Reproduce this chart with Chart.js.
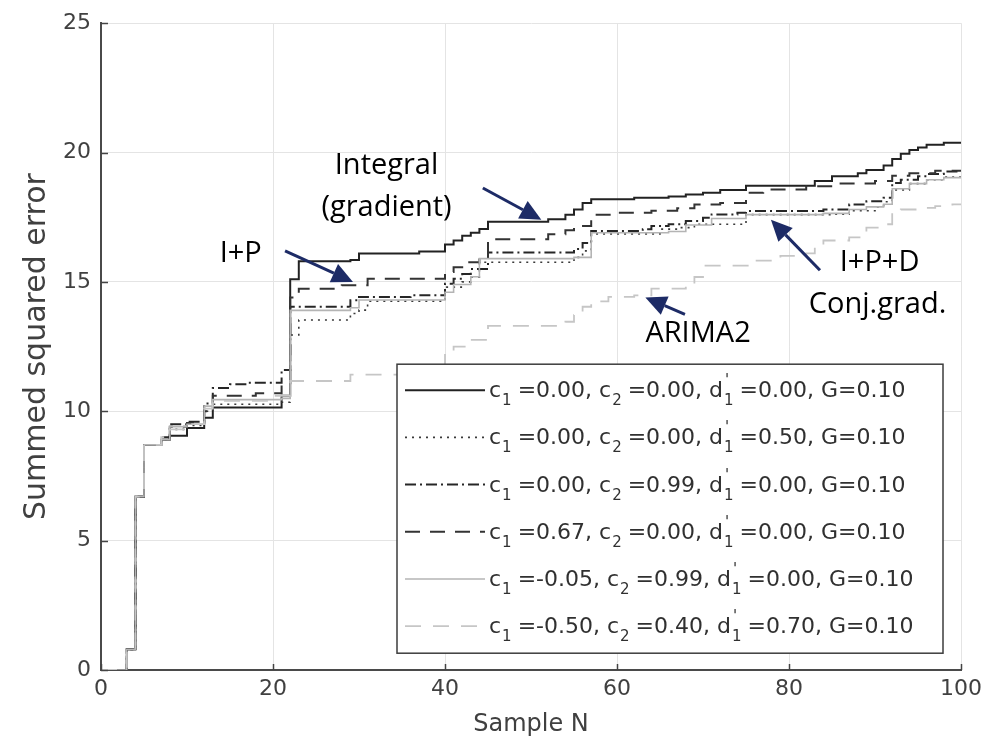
<!DOCTYPE html>
<html>
<head>
<meta charset="utf-8">
<title>Summed squared error</title>
<script src="https://cdn.jsdelivr.net/npm/chart.js@4.4.1/dist/chart.umd.min.js"></script>
<style>
  html, body { margin: 0; padding: 0; background: #fff; }
  #wrap { position: relative; width: 994px; height: 749px; }
</style>
</head>
<body>
<div id="wrap"><canvas id="sse" width="994" height="749"></canvas></div>
<script>
// tick labels
const xTicks = [0, 20, 40, 60, 80, 100]
const yTicks = [0, 5, 10, 15, 20, 25]

// legend parameters (one entry per curve)
const c1Vals = ['0.00', '0.00', '0.00', '0.67', '-0.05', '-0.50']
const c2Vals = ['0.00', '0.00', '0.99', '0.00', '0.99', '0.40']
const d1Vals = ['0.00', '0.50', '0.00', '0.00', '0.00', '0.70']
const gVals  = ['0.10', '0.10', '0.10', '0.10', '0.10', '0.10']

// step curves: [sample N, summed squared error] at each change
const curveSolid = [[0,0],[3,0.8],[4,6.7],[5,8.7],[7,8.9],[8,9.05],[10,9.35],[12,9.75],[13,10.15],[21,10.6],[22,15.1],[23,15.8],[29,15.85],[30,16.1],[37,16.18],[40,16.45],[41,16.6],[42,16.78],[43,16.9],[44,17.05],[45,17.33],[52,17.42],[54,17.6],[55,17.8],[56,18.05],[57,18.2],[62,18.25],[66,18.3],[68,18.38],[70,18.45],[72,18.55],[75,18.72],[83,18.9],[85,19.08],[88,19.2],[89,19.33],[91,19.5],[92,19.75],[93,19.95],[94,20.1],[95,20.2],[96,20.3],[98,20.38],[100,20.38]]
const curveDotted = [[0,0],[3,0.8],[4,6.7],[5,8.7],[7,8.9],[8,9.3],[10,9.45],[12,10.0],[13,10.27],[21,10.35],[22,12.95],[23,13.53],[29,13.78],[30,13.91],[31,14.25],[40,14.8],[42,15.0],[43,15.19],[44,15.76],[55,15.95],[56,16.2],[57,16.85],[65,17.04],[67,17.1],[69,17.23],[75,17.6],[85,17.62],[87,17.75],[90,17.9],[91,18.1],[92,18.55],[94,18.8],[96,18.95],[98,19.05],[100,19.1]]
const curveDashDot = [[0,0],[3,0.8],[4,6.7],[5,8.7],[7,9.0],[8,9.5],[10,9.6],[12,10.3],[13,10.9],[15,11.04],[17,11.1],[21,11.6],[22,14.04],[29,14.29],[30,14.42],[36,14.48],[40,14.93],[41,15.12],[42,15.31],[43,15.5],[45,16.14],[55,16.27],[56,16.5],[57,16.97],[63,17.04],[64,17.16],[66,17.23],[68,17.35],[70,17.48],[71,17.61],[74,17.67],[75,17.74],[84,17.8],[87,17.99],[89,18.12],[91,18.25],[92,18.82],[93,18.95],[95,19.08],[96,19.17],[98,19.27],[100,19.3]]
const curveDashed = [[0,0],[3,0.8],[4,6.7],[5,8.7],[7,9.0],[8,9.4],[10,9.55],[12,10.0],[13,10.6],[18,10.7],[21,11.0],[22,14.4],[23,14.74],[28,14.87],[31,15.12],[40,15.38],[41,15.57],[42,15.76],[44,16.0],[45,16.65],[52,16.84],[54,17.0],[55,17.16],[57,17.6],[60,17.67],[64,17.75],[67,17.85],[69,17.99],[72,18.05],[75,18.45],[77,18.57],[82,18.7],[86,18.8],[90,18.9],[92,19.1],[94,19.2],[97,19.3],[100,19.3]]
const curveLight = [[0,0],[3,0.8],[4,6.7],[5,8.7],[7,8.9],[8,9.4],[10,9.5],[12,10.2],[13,10.45],[21,10.5],[22,13.9],[29,14.0],[30,14.3],[40,14.6],[41,14.9],[43,15.2],[44,15.9],[55,15.95],[57,16.9],[66,16.95],[68,17.2],[71,17.45],[75,17.6],[84,17.65],[87,17.8],[89,17.9],[91,18.0],[92,18.6],[94,18.8],[96,18.95],[98,19.03],[100,19.07]]
const curveArima = [[0,0],[3,0.8],[4,6.7],[5,8.7],[7,9.0],[8,9.3],[10,9.5],[12,10.1],[13,10.4],[20,10.6],[22,11.17],[29,11.42],[35,11.6],[40,12.25],[41,12.5],[43,12.76],[45,13.3],[54,13.46],[55,13.72],[56,14.04],[57,14.25],[59,14.42],[62,14.48],[64,14.74],[68,14.93],[69,15.19],[70,15.63],[76,15.82],[79,16.01],[82,16.1],[83,16.35],[84,16.6],[87,16.72],[89,17.1],[91,17.23],[92,17.67],[93,17.8],[95,17.86],[97,17.93],[99,18.0],[100,18.0]]

const curves = [curveSolid, curveDotted, curveDashDot, curveDashed, curveLight, curveArima]
const lineStyles = [
    {color: '#222222', width: 2,   dash: []},
    {color: '#3a3a3a', width: 1.6, dash: [2, 5]},
    {color: '#262626', width: 2,   dash: [11, 4, 2, 4]},
    {color: '#333333', width: 2,   dash: [15, 10]},
    {color: '#b4b4b4', width: 1.6, dash: []},
    {color: '#c6c6c6', width: 1.8, dash: [16, 12]}
]

const textColor = '#404040'
const arrowColor = '#1d2b66'

// annotation text, anchored in data units
const annotations = [
    {lines: ['Integral', '(gradient)'], x: 33.2, y: 19.5, align: 'center'},
    {lines: ['I+P'], x: 13.8, y: 16.1, align: 'left'},
    {lines: ['ARIMA2'], x: 63.3, y: 13.0, align: 'left'},
    {lines: ['I+P+D'], x: 85.9, y: 15.75, align: 'left'},
    {lines: ['Conj.grad.'], x: 82.3, y: 14.1, align: 'left'}
]
// arrows: [fromX, fromY, toX, toY] in data units
const arrows = [
    [44.4, 18.63, 51.2, 17.4],
    [21.4, 16.2, 29.3, 15.0],
    [67.9, 13.75, 63.3, 14.4],
    [83.6, 15.45, 77.9, 17.4]
]

function legendLabel(i){
    return 'c1=' + c1Vals[i] + ', c2=' + c2Vals[i] + ", d'1=" + d1Vals[i] + ', G=' + gVals[i]
}

function drawArrow(ctx, x1, y1, x2, y2){
    let ang = Math.atan2(y2 - y1, x2 - x1)
    let head = 21, half = 10
    let bx = x2 - head * Math.cos(ang), by = y2 - head * Math.sin(ang)
    ctx.strokeStyle = arrowColor
    ctx.fillStyle = arrowColor
    ctx.lineWidth = 3
    ctx.setLineDash([])
    ctx.beginPath()
    ctx.moveTo(x1, y1)
    ctx.lineTo(bx, by)
    ctx.stroke()
    ctx.beginPath()
    ctx.moveTo(x2, y2)
    ctx.lineTo(bx + half * Math.sin(ang), by - half * Math.cos(ang))
    ctx.lineTo(bx - half * Math.sin(ang), by + half * Math.cos(ang))
    ctx.closePath()
    ctx.fill()
}

function drawLegend(chart){
    const ctx = chart.ctx
    const area = chart.chartArea
    const bx = area.left + 296, by = area.top + 341, bw = 546, bh = 289
    const mainFont = '22px "DejaVu Sans"'
    const subFont = '15px "DejaVu Sans"'
    ctx.save()
    ctx.fillStyle = '#fff'
    ctx.fillRect(bx, by, bw, bh)
    ctx.strokeStyle = '#3c3c3c'
    ctx.lineWidth = 1.5
    ctx.setLineDash([])
    ctx.strokeRect(bx, by, bw, bh)
    for (let i = 0; i < curves.length; i++) {
        let ry = by + 26 + i * 47.2
        let st = lineStyles[i]
        ctx.strokeStyle = st.color
        ctx.lineWidth = st.width
        ctx.setLineDash(st.dash)
        ctx.beginPath()
        ctx.moveTo(bx + 8, ry)
        ctx.lineTo(bx + 88, ry)
        ctx.stroke()
        ctx.setLineDash([])

        let x = bx + 92
        let ty = ry + 7
        ctx.fillStyle = '#303030'
        ctx.textBaseline = 'alphabetic'
        ctx.textAlign = 'left'
        let parts = [
            {t: 'c'}, {s: '1'}, {t: '=' + c1Vals[i] + ', c'}, {s: '2'},
            {t: '=' + c2Vals[i] + ', d'}, {s: '1', p: "'"}, {t: '=' + d1Vals[i] + ', G=' + gVals[i]}
        ]
        parts.forEach(function(p){
            if (p.t !== undefined) {
                ctx.font = mainFont
                ctx.fillText(p.t, x, ty)
                x += ctx.measureText(p.t).width
            } else {
                ctx.font = subFont
                ctx.fillText(p.s, x + 1, ty + 8)
                if (p.p) ctx.fillText(p.p, x + 2, ty - 12)
                x += ctx.measureText(p.s).width + 7
            }
        })
    }
    ctx.restore()
}

const overlayPlugin = {
    id: 'overlay',
    afterDatasetsDraw(chart){
        const ctx = chart.ctx
        const area = chart.chartArea
        const xs = chart.scales.x, ys = chart.scales.y
        ctx.save()
        // inward tick marks
        ctx.strokeStyle = '#444'
        ctx.lineWidth = 1.5
        ctx.setLineDash([])
        yTicks.forEach(function(v){
            let py = Math.round(ys.getPixelForValue(v)) + 0.5
            ctx.beginPath(); ctx.moveTo(area.left, py); ctx.lineTo(area.left + 7, py); ctx.stroke()
        })
        xTicks.forEach(function(v){
            let px = Math.round(xs.getPixelForValue(v)) + 0.5
            ctx.beginPath(); ctx.moveTo(px, area.bottom); ctx.lineTo(px, area.bottom - 6); ctx.stroke()
        })
        ctx.restore()

        drawLegend(chart)

        ctx.save()
        ctx.fillStyle = '#000'
        ctx.font = '29px "Open Sans"'
        ctx.textBaseline = 'middle'
        annotations.forEach(function(a){
            ctx.textAlign = a.align
            a.lines.forEach(function(line, k){
                ctx.fillText(line, xs.getPixelForValue(a.x), ys.getPixelForValue(a.y) + k * 42)
            })
        })
        arrows.forEach(function(a){
            drawArrow(ctx, xs.getPixelForValue(a[0]), ys.getPixelForValue(a[1]),
                           xs.getPixelForValue(a[2]), ys.getPixelForValue(a[3]))
        })
        ctx.restore()
    }
}

const ctx = document.getElementById('sse')
const sse = new Chart(ctx, {
    type: 'line',
    data: {
        datasets: curves.map(function(c, i){
            return {
                label: legendLabel(i),
                data: c.map(function(p){ return {x: p[0], y: p[1]} }),
                borderColor: lineStyles[i].color,
                borderWidth: lineStyles[i].width,
                borderDash: lineStyles[i].dash,
                stepped: 'before',
                pointRadius: 0,
                fill: false
            }
        }).reverse()
    },
    options: {
        responsive: false,
        animation: false,
        layout: { padding: {left: 0, top: 17, right: 33, bottom: 0} },
        plugins: {
            legend: { display: false },
            tooltip: { enabled: false }
        },
        scales: {
            x: {
                type: 'linear',
                min: 0,
                max: 100,
                afterBuildTicks: function(s){ s.ticks = xTicks.map(function(v){ return {value: v} }) },
                afterFit: function(s){ s.height = 79 },
                ticks: { color: textColor, font: {family: 'DejaVu Sans', size: 22}, padding: 6, maxRotation: 0 },
                grid: { color: '#e4e4e4', lineWidth: 1, drawTicks: false },
                border: { color: '#4a4a4a', width: 2 },
                title: { display: true, text: 'Sample N', color: textColor,
                         font: {family: 'DejaVu Sans', size: 24}, padding: {top: 0, bottom: 10} }
            },
            y: {
                min: 0,
                max: 25,
                afterBuildTicks: function(s){ s.ticks = yTicks.map(function(v){ return {value: v} }) },
                afterFit: function(s){ s.width = 101 },
                ticks: { color: textColor, font: {family: 'DejaVu Sans', size: 22}, padding: 10 },
                grid: { color: '#e4e4e4', lineWidth: 1, drawTicks: false },
                border: { color: '#4a4a4a', width: 2 },
                title: { display: true, text: 'Summed squared error', color: textColor,
                         font: {family: 'DejaVu Sans', size: 30}, padding: {top: 19, bottom: 0} }
            }
        }
    },
    plugins: [overlayPlugin]
})
</script>
</body>
</html>
